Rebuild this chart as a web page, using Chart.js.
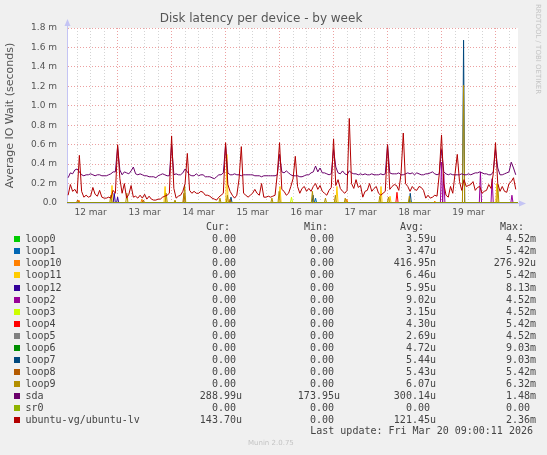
<!DOCTYPE html>
<html>
<head>
<meta charset="utf-8">
<title>Disk latency per device - by week</title>
<script src="https://cdn.jsdelivr.net/npm/chart.js@4.4.1/dist/chart.umd.min.js"></script>
<style>
  html, body { margin: 0; padding: 0; background: #f0f0f0; }
  #wrap { position: relative; width: 547px; height: 455px; overflow: hidden; }
  #chart { position: absolute; left: 0; top: 0; }
  .mono { position: absolute; font: 10px 'DejaVu Sans Mono', monospace; color: #444; line-height: 12px; white-space: pre; }
  .num { width: 90px; text-align: right; }
  .box { position: absolute; width: 6px; height: 6px; }
  .side { position: absolute; left: 534px; top: 4px; writing-mode: vertical-rl; font: 7px 'DejaVu Sans', sans-serif; color: #c4c4c4; }
  .ver { position: absolute; left: 248px; top: 439px; font: 7px 'DejaVu Sans', sans-serif; color: #c4c4c4; }
</style>
</head>
<body>
<div id="wrap">
  <canvas id="chart" width="547" height="455"></canvas>
  <div id="legend"></div>
  <div class="side">RRDTOOL / TOBI OETIKER</div>
  <div class="ver">Munin 2.0.75</div>
</div>
<script>
// ---- data (x = hours since 12 mar 00:00, values in milliseconds) ----
const TITLE = 'Disk latency per device - by week'
const Y_TITLE = 'Average IO Wait (seconds)'
const X_MIN = 1.5
const X_MAX = 202
const START_HOUR = 2   // first hourly sample of sda / ubuntu-lv

const dayLabels = ['12 mar', '13 mar', '14 mar', '15 mar', '16 mar', '17 mar', '18 mar', '19 mar']
const yTicks = [0, 0.1, 0.2, 0.3, 0.4, 0.5, 0.6, 0.7, 0.8, 0.9, 1.0, 1.1, 1.2, 1.3, 1.4, 1.5, 1.6, 1.7, 1.8]
const yLabels = ['0.0', '0.2 m', '0.4 m', '0.6 m', '0.8 m', '1.0 m', '1.2 m', '1.4 m', '1.6 m', '1.8 m']

const names = ['loop0', 'loop1', 'loop10', 'loop11', 'loop12', 'loop2', 'loop3', 'loop4', 'loop5', 'loop6', 'loop7', 'loop8', 'loop9', 'sda', 'sr0', 'ubuntu-vg/ubuntu-lv']
const colors = ['#00CC00', '#0066B3', '#FF8000', '#FFCC00', '#330099', '#990099', '#CCFF00', '#FF0000', '#808080', '#008F00', '#00487D', '#B35A00', '#B38F00', '#6B006B', '#8FB300', '#B30000']
const curVals = ['0.00', '0.00', '0.00', '0.00', '0.00', '0.00', '0.00', '0.00', '0.00', '0.00', '0.00', '0.00', '0.00', '288.99u', '0.00', '143.70u']
const minVals = ['0.00', '0.00', '0.00', '0.00', '0.00', '0.00', '0.00', '0.00', '0.00', '0.00', '0.00', '0.00', '0.00', '173.95u', '0.00', '0.00']
const avgVals = ['3.59u', '3.47u', '416.95n', '6.46u', '5.95u', '9.02u', '3.15u', '4.30u', '2.69u', '4.72u', '5.44u', '5.43u', '6.07u', '300.14u', '0.00', '121.45u']
const maxVals = ['4.52m', '5.42m', '276.92u', '5.42m', '8.13m', '4.52m', '4.52m', '5.42m', '4.52m', '9.03m', '9.03m', '5.42m', '6.32m', '1.48m', '0.00', '2.36m']
const LAST_UPDATE = 'Last update: Fri Mar 20 09:00:11 2026'

// hourly values, 02:00 12 mar .. 09:00 20 mar
const sdaValues = [
  0.26, 0.31, 0.30, 0.34, 0.35, 0.32, 0.29, 0.28, 0.29, 0.29,
  0.30, 0.29, 0.28, 0.29, 0.29, 0.28, 0.28, 0.28, 0.29, 0.30,
  0.32, 0.32, 0.58, 0.34, 0.29, 0.32, 0.31, 0.30, 0.33, 0.37,
  0.30, 0.29, 0.30, 0.29, 0.28, 0.28, 0.27, 0.27, 0.27, 0.26,
  0.28, 0.29, 0.30, 0.29, 0.28, 0.28, 0.60, 0.29, 0.30, 0.29,
  0.29, 0.31, 0.35, 0.32, 0.29, 0.28, 0.28, 0.30, 0.28, 0.29,
  0.29, 0.27, 0.27, 0.27, 0.26, 0.25, 0.27, 0.29, 0.29, 0.31,
  0.60, 0.31, 0.29, 0.29, 0.30, 0.29, 0.29, 0.28, 0.29, 0.29,
  0.29, 0.29, 0.29, 0.28, 0.28, 0.28, 0.27, 0.28, 0.28, 0.28,
  0.28, 0.28, 0.28, 0.29, 0.50, 0.32, 0.31, 0.33, 0.31, 0.29,
  0.28, 0.28, 0.28, 0.27, 0.27, 0.28, 0.29, 0.29, 0.31, 0.32,
  0.38, 0.32, 0.36, 0.31, 0.31, 0.30, 0.29, 0.30, 0.55, 0.37,
  0.31, 0.30, 0.33, 0.30, 0.29, 0.33, 0.31, 0.30, 0.30, 0.29,
  0.30, 0.29, 0.30, 0.29, 0.29, 0.30, 0.29, 0.29, 0.29, 0.30,
  0.29, 0.30, 0.60, 0.31, 0.30, 0.30, 0.30, 0.31, 0.29, 0.29,
  0.30, 0.31, 0.30, 0.31, 0.29, 0.31, 0.30, 0.29, 0.29, 0.30,
  0.30, 0.31, 0.32, 0.30, 0.29, 0.30, 0.55, 0.32, 0.30, 0.29,
  0.30, 0.29, 0.29, 0.29, 0.29, 0.30, 0.29, 0.29, 0.30, 0.29,
  0.30, 0.31, 0.31, 0.32, 0.31, 0.30, 0.30, 0.29, 0.29, 0.32,
  0.55, 0.36, 0.29, 0.29, 0.30, 0.31, 0.32, 0.42, 0.36, 0.29
]
const lvValues = [
  0.08, 0.19, 0.12, 0.14, 0.10, 0.49, 0.12, 0.06, 0.08, 0.06,
  0.07, 0.16, 0.09, 0.07, 0.13, 0.06, 0.05, 0.05, 0.06, 0.05,
  0.13, 0.10, 0.60, 0.25, 0.10, 0.20, 0.05, 0.09, 0.18, 0.06,
  0.07, 0.05, 0.08, 0.05, 0.09, 0.04, 0.07, 0.04, 0.03, 0.03,
  0.04, 0.04, 0.06, 0.07, 0.08, 0.10, 0.69, 0.15, 0.05, 0.07,
  0.08, 0.12, 0.20, 0.51, 0.13, 0.10, 0.12, 0.10, 0.10, 0.12,
  0.11, 0.08, 0.08, 0.07, 0.05, 0.04, 0.03, 0.06, 0.08, 0.10,
  0.62, 0.19, 0.12, 0.08, 0.05, 0.08, 0.25, 0.58, 0.10, 0.08,
  0.06, 0.08, 0.10, 0.14, 0.10, 0.08, 0.20, 0.06, 0.06, 0.07,
  0.06, 0.07, 0.08, 0.30, 0.62, 0.14, 0.12, 0.08, 0.10, 0.17,
  0.25, 0.48, 0.17, 0.10, 0.15, 0.17, 0.12, 0.15, 0.12, 0.17,
  0.20, 0.14, 0.18, 0.12, 0.10, 0.08, 0.13, 0.16, 0.66, 0.18,
  0.24, 0.15, 0.12, 0.10, 0.13, 0.87, 0.20, 0.15, 0.24, 0.16,
  0.18, 0.06, 0.12, 0.13, 0.20, 0.12, 0.15, 0.17, 0.10, 0.08,
  0.10, 0.12, 0.60, 0.14, 0.17, 0.19, 0.18, 0.13, 0.30, 0.72,
  0.20, 0.17, 0.12, 0.17, 0.14, 0.13, 0.17, 0.16, 0.13, 0.05,
  0.08, 0.05, 0.06, 0.08, 0.07, 0.30, 0.70, 0.20, 0.08, 0.06,
  0.17, 0.10, 0.30, 0.50, 0.22, 0.13, 0.24, 0.17, 0.18, 0.19,
  0.22, 0.13, 0.16, 0.17, 0.10, 0.12, 0.13, 0.19, 0.15, 0.30,
  0.62, 0.20, 0.12, 0.17, 0.12, 0.11, 0.20, 0.22, 0.26, 0.14
]

// loop devices: zero except short bursts, [hour, value]
const loop0Spikes = []
const loop1Spikes = [[112, 0.05]]
const loop10Spikes = [[6.8, 0.03], [34.8, 0.04], [125.9, 0.04], [165, 0.02]]
const loop11Spikes = [[21.5, 0.18], [45.1, 0.17], [72.6, 0.5], [96.2, 0.17], [121.5, 0.17], [141.1, 0.17], [145.1, 0.07], [192.6, 0.2]]
const loop12Spikes = [[22.5, 0.1], [24, 0.06]]
const loop2Spikes = [[168, 0.42], [169, 0.3], [185.3, 0.32], [190.5, 0.25], [199.3, 0.08]]
const loop3Spikes = [[101.3, 0.06]]
const loop4Spikes = [[148.2, 0.11]]
const loop5Spikes = []
const loop6Spikes = []
const loop7Spikes = [[74.4, 0.06], [110.9, 0.08], [154.1, 0.1], [177.8, 1.675]]
const loop8Spikes = [[6.2, 0.03], [35.5, 0.03], [53.5, 0.1], [74, 0.04]]
const loop9Spikes = [[21, 0.08], [28.1, 0.1], [45.6, 0.1], [49.5, 0.03], [53.8, 0.18], [69.5, 0.05], [72.8, 0.08], [92.6, 0.05], [95.8, 0.12], [110.6, 0.12], [116.4, 0.05], [120.8, 0.08], [125.2, 0.05], [140.6, 0.07], [144.4, 0.06], [153.7, 0.07], [177.8, 1.21], [193, 0.19]]
const sr0Spikes = []

// ---- build datasets ----
const hourly = (vals) => vals.map((v, i) => ({ x: START_HOUR + i, y: v }))
const bursts = (list) => {
  const pts = [{ x: X_MIN, y: 0 }]
  list.forEach(([t, v]) => pts.push({ x: t - 0.5, y: 0 }, { x: t, y: v }, { x: t + 0.5, y: 0 }))
  pts.push({ x: X_MAX, y: 0 })
  return pts
}
const seriesData = [
  bursts(loop0Spikes), bursts(loop1Spikes), bursts(loop10Spikes), bursts(loop11Spikes), bursts(loop12Spikes),
  bursts(loop2Spikes), bursts(loop3Spikes), bursts(loop4Spikes), bursts(loop5Spikes), bursts(loop6Spikes),
  bursts(loop7Spikes), bursts(loop8Spikes), bursts(loop9Spikes), hourly(sdaValues), bursts(sr0Spikes), hourly(lvValues)
]

const xTicks = []
for (let h = 6; h < X_MAX; h += 6) xTicks.push(h)

const RED_GRID = '#eca0a0'
const GRAY_GRID = '#d4d4d4'
const AXIS = '#c4c4f4'
const TEXT = '#555'

// white plot area + axis arrows (rrdtool look)
const frame = {
  id: 'frame',
  beforeDraw(chart) {
    const { ctx, chartArea: a } = chart
    ctx.save()
    ctx.fillStyle = '#fff'
    ctx.fillRect(a.left, a.top, a.right - a.left, a.bottom - a.top)
    ctx.restore()
  },
  afterDraw(chart) {
    const { ctx, chartArea: a } = chart
    ctx.save()
    ctx.strokeStyle = AXIS
    ctx.fillStyle = AXIS
    ctx.lineWidth = 1
    ctx.beginPath()
    ctx.moveTo(a.left + 0.5, a.top); ctx.lineTo(a.left + 0.5, a.top - 4)
    ctx.moveTo(a.right, a.bottom + 0.5); ctx.lineTo(a.right + 2, a.bottom + 0.5)
    ctx.stroke()
    ctx.beginPath()
    ctx.moveTo(a.left + 0.5, a.top - 9); ctx.lineTo(a.left - 2.5, a.top - 2); ctx.lineTo(a.left + 3.5, a.top - 2)
    ctx.fill()
    ctx.beginPath()
    ctx.moveTo(a.right + 8, a.bottom + 0.5); ctx.lineTo(a.right + 1, a.bottom - 2.5); ctx.lineTo(a.right + 1, a.bottom + 3.5)
    ctx.fill()
    ctx.restore()
  }
}

new Chart(document.getElementById('chart'), {
  type: 'line',
  data: {
    datasets: names.map((n, i) => ({
      label: n,
      data: seriesData[i],
      borderColor: colors[i],
      backgroundColor: colors[i],
      borderWidth: 1,
      pointRadius: 0,
      tension: 0,
      order: names.length - i
    }))
  },
  options: {
    responsive: false,
    devicePixelRatio: 1,
    animation: false,
    events: [],
    layout: { padding: { left: 4, right: 29, top: 0, bottom: 232 } },
    plugins: {
      legend: { display: false },
      tooltip: { enabled: false },
      title: {
        display: true, text: TITLE, color: TEXT,
        font: { family: 'DejaVu Sans', size: 12, weight: 'normal' },
        padding: { top: 12, bottom: 1.6 }
      }
    },
    scales: {
      x: {
        type: 'linear', min: X_MIN, max: X_MAX,
        afterBuildTicks: (s) => { s.ticks = xTicks.map(v => ({ value: v })) },
        afterFit: (s) => { s.height = 20 },
        ticks: {
          autoSkip: false, maxRotation: 0, padding: 4, color: TEXT,
          font: { family: 'DejaVu Sans', size: 9 },
          callback: (v) => v % 24 === 12 ? dayLabels[(v - 12) / 24] : ''
        },
        grid: { drawTicks: false, color: (c) => c.tick && c.tick.value % 24 === 0 ? RED_GRID : GRAY_GRID },
        border: { color: AXIS, width: 1, dash: [1, 2] }
      },
      y: {
        min: 0, max: 1.8,
        afterBuildTicks: (s) => { s.ticks = yTicks.map(v => ({ value: v })) },
        afterFit: (s) => { s.width = 63 },
        ticks: {
          padding: 10, color: TEXT,
          font: { family: 'DejaVu Sans', size: 9 },
          callback: (v, i) => i % 2 ? '' : yLabels[i / 2]
        },
        grid: { drawTicks: false, color: (c) => c.index % 2 === 0 ? RED_GRID : GRAY_GRID },
        border: { color: AXIS, width: 1, dash: [1, 2] },
        title: {
          display: true, text: Y_TITLE, color: TEXT,
          font: { family: 'DejaVu Sans', size: 11, weight: 'normal' },
          padding: { top: 0, bottom: 0 }
        }
      }
    }
  },
  plugins: [frame]
})

// ---- legend table (munin style) ----
const legend = document.getElementById('legend')
const pad = (s) => /\d$/.test(s) ? s + ' ' : s
const cell = (text, left, top, cls) => {
  const d = document.createElement('div')
  d.className = 'mono ' + (cls || '')
  d.textContent = text
  d.style.left = left + 'px'
  d.style.top = top + 'px'
  legend.appendChild(d)
}
const colRight = [242, 340, 436, 536]
const ROW0 = 233.3, ROW_H = 12.05
;['Cur:', 'Min:', 'Avg:', 'Max:'].forEach((h, j) => cell(h + '  ', colRight[j] - 90, 221.3, 'num'))
names.forEach((n, i) => {
  const top = ROW0 + i * ROW_H
  const b = document.createElement('div')
  b.className = 'box'
  b.style.background = colors[i]
  b.style.left = '14px'
  b.style.top = (top + 3) + 'px'
  legend.appendChild(b)
  cell(n, 25.5, top)
  ;[curVals[i], minVals[i], avgVals[i], maxVals[i]].forEach((v, j) => cell(pad(v), colRight[j] - 90, top, 'num'))
})
const lu = document.createElement('div')
lu.className = 'mono'
lu.textContent = LAST_UPDATE
lu.style.right = (547 - 533) + 'px'
lu.style.top = '425px'
legend.appendChild(lu)
</script>
</body>
</html>
